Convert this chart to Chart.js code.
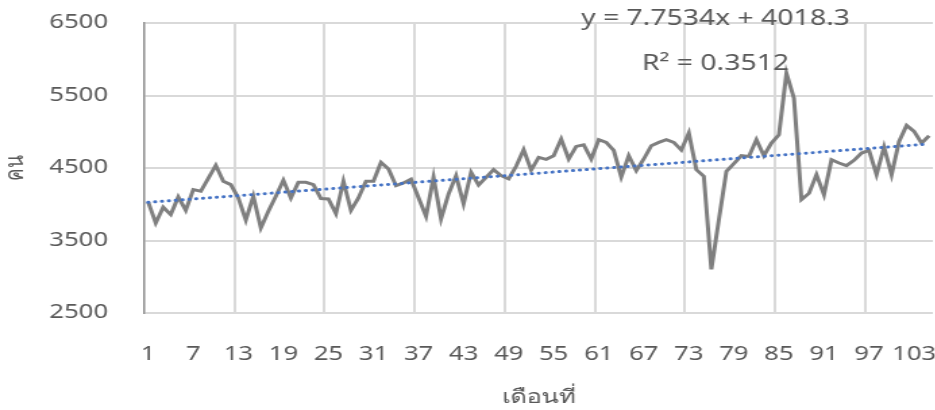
<!DOCTYPE html>
<html>
<head>
<meta charset="utf-8">
<script src="https://cdn.jsdelivr.net/npm/chart.js@4/dist/chart.umd.min.js"></script>
<style>
  html, body { margin: 0; padding: 0; background: #fff; overflow: hidden; }
  /* the reference is a horizontally stretched chart, so stretch the canvas */
  #wrap { width: 693px; height: 410px; transform: scaleX(1.35); transform-origin: 0 0; }
</style>
</head>
<body>
<div id="wrap"><canvas id="chart" width="693" height="410"></canvas></div>
<script>
// Month numbers 1..105
const months = Array.from({ length: 105 }, (_, i) => i + 1);

// Monthly counts
const counts = [
  4028, 3743, 3959, 3858, 4101, 3917, 4202, 4179, 4358, 4537,
  4317, 4271, 4087, 3780, 4110, 3674, 3904, 4110, 4330, 4087,
  4303, 4303, 4271, 4078, 4073, 3872, 4317, 3917, 4087, 4317,
  4317, 4578, 4486, 4257, 4294, 4345, 4090, 3835, 4372, 3798,
  4142, 4394, 4005, 4440, 4266, 4372, 4477, 4394, 4349, 4523,
  4752, 4472, 4647, 4620, 4670, 4899, 4624, 4798, 4821, 4624,
  4890, 4853, 4743, 4376, 4670, 4463, 4624, 4807, 4853, 4890,
  4853, 4748, 4982, 4477, 4385, 3101, 3789, 4454, 4560, 4670,
  4660, 4890, 4670, 4844, 4959, 5807, 5463, 4064, 4150, 4408,
  4133, 4615, 4569, 4532, 4606, 4706, 4743, 4408, 4789, 4408,
  4867, 5087, 5005, 4844, 4945
];

// Linear trend end values (first and last month)
const trendStart = 4026;
const trendEnd = 4832;
const trendLabels = ["y = 7.7534x + 4018.3", "R\u00b2 = 0.3512"];

const xTickLabels = [1, 7, 13, 19, 25, 31, 37, 43, 49, 55, 61, 67, 73, 79, 85, 91, 97, 103];
const xGridAt = [12.5, 24.5, 36.5, 48.5, 60.5, 72.5, 84.5, 96.5];
const yTicks = [2500, 3500, 4500, 5500, 6500];

const countPoints = counts.map((v, i) => ({ x: months[i], y: v }));
const trendPoints = [
  { x: months[0], y: trendStart },
  { x: months[months.length - 1], y: trendEnd },
];

const textColor = "#595959";
const gridColor = "#d9d9d9";
const fontFamily = "'Noto Sans', 'Open Sans', sans-serif";

// vertical gridlines every 12 months, drawn behind everything else
const monthGridPlugin = {
  id: "monthGrid",
  afterDraw(chart) {
    const { ctx, chartArea, scales } = chart;
    ctx.save();
    ctx.globalCompositeOperation = "destination-over";
    ctx.fillStyle = gridColor;
    xGridAt.forEach((v) => {
      const px = Math.round(scales.x.getPixelForValue(v));
      ctx.fillRect(px - 1, chartArea.top, 2, chartArea.bottom - chartArea.top);
    });
    ctx.restore();
  },
};

// draws the trendline equation text
const trendTextPlugin = {
  id: "trendText",
  afterDraw(chart) {
    const ctx = chart.ctx;
    ctx.save();
    ctx.fillStyle = textColor;
    ctx.font = "21px " + fontFamily;
    ctx.textAlign = "center";
    ctx.textBaseline = "middle";
    ctx.fillText(trendLabels[0], 530, 19);
    ctx.fillText(trendLabels[1], 530, 64);
    ctx.restore();
  },
};

const ctx = document.getElementById("chart").getContext("2d");
new Chart(ctx, {
  type: "line",
  data: {
    datasets: [
      {
        label: "counts",
        data: countPoints,
        borderColor: "#7f7f7f",
        borderWidth: 3,
        pointRadius: 0,
        tension: 0,
        order: 2,
      },
      {
        label: "trend",
        data: trendPoints,
        borderColor: "#4472c4",
        borderWidth: 3,
        borderDash: [0.1, 5],
        borderCapStyle: "round",
        pointRadius: 0,
        order: 1,
      },
    ],
  },
  options: {
    responsive: false,
    animation: false,
    layout: { padding: { top: 23, right: 2, left: 0, bottom: 0 } },
    plugins: {
      legend: { display: false },
      tooltip: { enabled: false },
    },
    scales: {
      x: {
        type: "linear",
        min: 0.5,
        max: 105.5,
        afterBuildTicks(scale) {
          scale.ticks = xTickLabels.map((v) => ({ value: v }));
        },
        afterFit(scale) {
          scale.height = 97;
          scale.paddingLeft = 0;
          scale.paddingRight = 0;
        },
        grid: { display: false },
        border: { display: false },
        ticks: {
          autoSkip: false,
          maxRotation: 0,
          padding: 22,
          color: textColor,
          font: { family: fontFamily, size: 19 },
          callback: (v) => String(v),
        },
        title: {
          display: true,
          text: "เดือนที่",
          color: textColor,
          font: { family: fontFamily, size: 19 },
          padding: { top: 0, bottom: 1 },
        },
      },
      y: {
        min: 2500,
        max: 6500,
        afterBuildTicks(scale) {
          scale.ticks = yTicks.map((v) => ({ value: v }));
        },
        afterFit(scale) {
          scale.width = 107;
          scale.paddingTop = 0;
          scale.paddingBottom = 0;
        },
        grid: { drawTicks: false, lineWidth: 2, color: gridColor },
        border: { display: true, color: "#8c8c8c", width: 1.5 },
        ticks: {
          padding: 27,
          color: textColor,
          font: { family: fontFamily, size: 19 },
          callback: (v) => String(v),
        },
        title: {
          display: true,
          text: "คน",
          color: textColor,
          font: { family: fontFamily, size: 19 },
          padding: 0,
        },
      },
    },
  },
  plugins: [monthGridPlugin, trendTextPlugin],
});
</script>
</body>
</html>
